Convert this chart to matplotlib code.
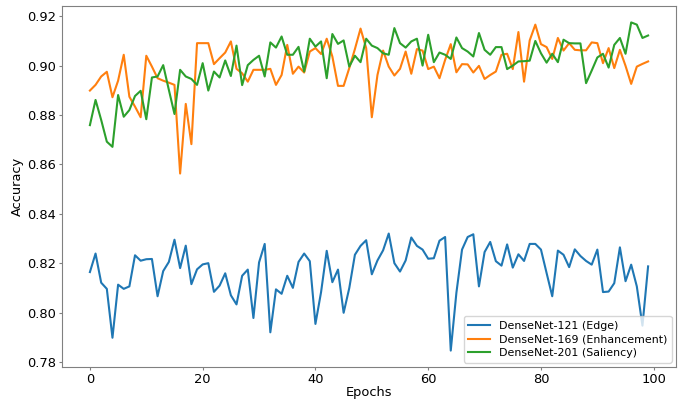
import numpy as np
import matplotlib
matplotlib.use("Agg")
import matplotlib.pyplot as plt

epochs = np.arange(100)

# DenseNet-121 (Edge)
acc_edge = [0.8164, 0.8239, 0.8121, 0.8096, 0.7898, 0.8113, 0.8096, 0.8106, 0.8232, 0.8210,
            0.8216, 0.8217, 0.8066, 0.8168, 0.8205, 0.8295, 0.8180, 0.8271, 0.8115, 0.8175,
            0.8195, 0.8200, 0.8084, 0.8109, 0.8159, 0.8070, 0.8033, 0.8149, 0.8174, 0.7978,
            0.8203, 0.8278, 0.7920, 0.8094, 0.8076, 0.8149, 0.8100, 0.8205, 0.8239, 0.8208,
            0.7954, 0.8083, 0.8250, 0.8123, 0.8174, 0.7999, 0.8099, 0.8234, 0.8270, 0.8293,
            0.8155, 0.8211, 0.8252, 0.8320, 0.8200, 0.8166, 0.8211, 0.8304, 0.8270, 0.8255,
            0.8218, 0.8220, 0.8291, 0.8306, 0.7846, 0.8080, 0.8255, 0.8306, 0.8317, 0.8106,
            0.8245, 0.8286, 0.8208, 0.8190, 0.8276, 0.8182, 0.8236, 0.8209, 0.8278, 0.8278,
            0.8255, 0.8160, 0.8066, 0.8251, 0.8234, 0.8184, 0.8256, 0.8229, 0.8209, 0.8194,
            0.8255, 0.8083, 0.8085, 0.8119, 0.8264, 0.8127, 0.8194, 0.8106, 0.7947, 0.8187]

# DenseNet-169 (Enhancement)
acc_enh = [0.8899, 0.8922, 0.8956, 0.8975, 0.8872, 0.8939, 0.9044, 0.8874, 0.8834, 0.8791,
           0.9040, 0.8996, 0.8949, 0.8939, 0.8931, 0.8922, 0.8563, 0.8845, 0.8682, 0.9091,
           0.9091, 0.9091, 0.9006, 0.9030, 0.9053, 0.9098, 0.8987, 0.8969, 0.8935, 0.8983,
           0.8983, 0.8983, 0.8987, 0.8922, 0.8962, 0.9084, 0.8967, 0.8996, 0.8972, 0.9057,
           0.9071, 0.9047, 0.9109, 0.9037, 0.8918, 0.8918, 0.8990, 0.9067, 0.9150, 0.9071,
           0.8791, 0.8962, 0.9061, 0.8996, 0.8960, 0.8987, 0.9057, 0.8967, 0.9067, 0.9061,
           0.8986, 0.8996, 0.8949, 0.9023, 0.9087, 0.8973, 0.9006, 0.9005, 0.8972, 0.8999,
           0.8946, 0.8962, 0.8976, 0.9044, 0.9048, 0.8986, 0.9136, 0.8935, 0.9102, 0.9166,
           0.9087, 0.9075, 0.9027, 0.9112, 0.9061, 0.9091, 0.9064, 0.9062, 0.9062, 0.9094,
           0.9091, 0.9010, 0.9071, 0.8990, 0.9064, 0.8999, 0.8926, 0.8996, 0.9007, 0.9017]

# DenseNet-201 (Saliency)
acc_sal = [0.8759, 0.8861, 0.8780, 0.8692, 0.8671, 0.8881, 0.8793, 0.8820, 0.8877, 0.8898,
           0.8783, 0.8952, 0.8956, 0.9002, 0.8902, 0.8804, 0.8983, 0.8956, 0.8946, 0.8922,
           0.9010, 0.8899, 0.8976, 0.8952, 0.9021, 0.8958, 0.9081, 0.8921, 0.9002, 0.9023,
           0.9040, 0.8956, 0.9094, 0.9073, 0.9118, 0.9044, 0.9044, 0.9076, 0.8976, 0.9109,
           0.9077, 0.9098, 0.8949, 0.9128, 0.9088, 0.9102, 0.8996, 0.9040, 0.9014, 0.9109,
           0.9081, 0.9071, 0.9050, 0.9044, 0.9152, 0.9091, 0.9073, 0.9098, 0.9109, 0.9000,
           0.9125, 0.9014, 0.9053, 0.9044, 0.9027, 0.9114, 0.9071, 0.9057, 0.9037, 0.9132,
           0.9064, 0.9044, 0.9075, 0.9075, 0.8986, 0.9000, 0.9017, 0.9018, 0.9020, 0.9100,
           0.9050, 0.9012, 0.9048, 0.9014, 0.9105, 0.9091, 0.9090, 0.9090, 0.8929, 0.8980,
           0.9033, 0.9048, 0.8992, 0.9084, 0.9112, 0.9048, 0.9175, 0.9166, 0.9112, 0.9122]

fig = plt.figure(figsize=(6.83, 3.99), dpi=100)
ax = fig.add_axes([62 / 683, 1 - 367 / 399, (676 - 62) / 683, (367 - 6) / 399])
ax.plot(epochs, acc_edge, label="DenseNet-121 (Edge)")
ax.plot(epochs, acc_enh, label="DenseNet-169 (Enhancement)")
ax.plot(epochs, acc_sal, label="DenseNet-201 (Saliency)")
ax.set_xlabel("Epochs", fontsize=9.4, labelpad=0.5)
ax.set_ylabel("Accuracy", fontsize=9.4, labelpad=2.5)
ax.tick_params(labelsize=9.4, length=2.5, pad=1.5, color="#808080")
ax.legend(loc="lower right", fontsize=7.9, borderaxespad=0.4, labelspacing=0.35)
for s in ax.spines.values():
    s.set_color("#808080")

fig.savefig("out.png", dpi=100)
